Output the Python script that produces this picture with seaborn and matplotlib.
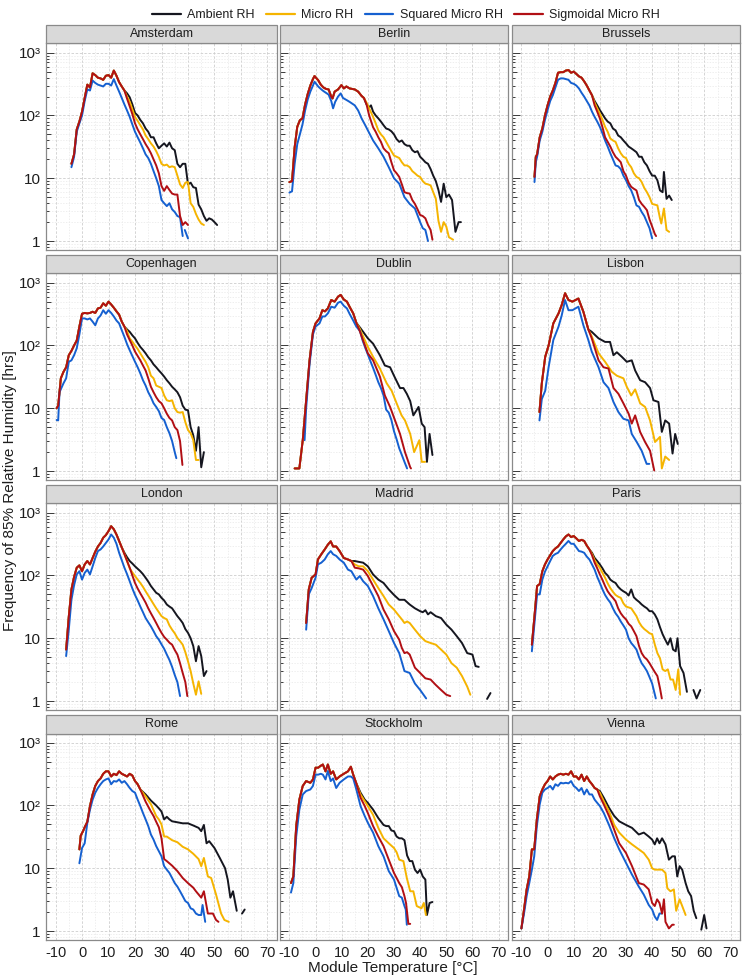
import matplotlib
matplotlib.use("Agg")
import matplotlib.pyplot as plt
import matplotlib.transforms as mtransforms
from matplotlib.lines import Line2D
from matplotlib.patches import Rectangle
from matplotlib.ticker import FixedLocator, FixedFormatter, LogLocator, NullFormatter
import pandas as pd
import seaborn as sns

# cities in facet order, series in drawing order
CITIES = ["Amsterdam", "Berlin", "Brussels", "Copenhagen", "Dublin", "Lisbon",
          "London", "Madrid", "Paris", "Rome", "Stockholm", "Vienna"]
SERIES = ["Ambient RH", "Micro RH", "Squared Micro RH", "Sigmoidal Micro RH"]
PALETTE = {"Ambient RH": "#15161f", "Micro RH": "#f5b400",
           "Squared Micro RH": "#1560d0", "Sigmoidal Micro RH": "#b10f14"}

# (temperature degC, hours); None = break in the line
# *_TOP is the part where ambient / micro / sigmoidal lie on top of each other

AMS_TOP = [(-4, 17), (-3, 24), (-2, 60), (-1, 80), (0, 115), (1, 190), (2, 310), (3, 280), (4, 470),
           (5, 440), (6, 400), (7, 390), (8, 370), (9, 430), (10, 440), (11, 400), (12, 520),
           (13, 430), (14, 340), (15, 290), (16, 250)]
AMS_SQ = [(-4, 15), (-3, 22), (-2, 55), (-1, 75), (0, 100), (1, 170), (2, 260), (3, 250), (4, 360),
          (5, 330), (6, 310), (7, 300), (8, 290), (9, 320), (10, 320), (11, 300), (12, 380), (13, 300),
          (14, 240), (15, 190), (16, 150), (17, 120), (18, 95), (19, 72), (20, 55), (21, 45), (22, 37),
          (23, 30), (24, 24), (25, 21), (26, 17), (27, 13), (28, 10), (29, 7.5), (30, 4.5), (31, 4.0),
          (32, 3.6), (33, 4.0), (34, 3.2), (35, 2.9), (36, 2.5), (37, 2.4), (38, 1.2), None,
          (38.8, 1.5), (40, 1.1)]
AMS_AMB = [(17, 225), (18, 195), (19, 150), (20, 110), (21, 100), (22, 85), (23, 75), (24, 62), (25, 55),
           (26, 45), (27, 45), (28, 36), (29, 30), (30, 33), (31, 36), (32, 32), (33, 37), (34, 30),
           (35, 28), (36, 17), (37, 15), (38, 17), (39, 17), (40, 8), (41, 8.5), (42, 7.2), (43, 7.0),
           (44, 3.8), (45, 3.2), (46, 2.5), (47, 2.1), (48, 2.3), (49, 2.2), (50, 2.0), (51, 1.8)]
AMS_MIC = [(17, 200), (18, 165), (19, 125), (20, 95), (21, 82), (22, 70), (23, 60), (24, 48), (25, 42),
           (26, 36), (27, 32), (28, 27), (29, 22), (30, 17), (31, 16), (32, 16.5), (33, 15), (34, 15.5),
           (35, 15), (36, 11), (37, 8), (38, 7), (39, 8.5), (40, 8.7), (41, 4), (42, 3.5), (43, 2.7),
           (44, 2.2), (45, 1.9), (46, 1.8)]
AMS_SIG = [(17, 185), (18, 140), (19, 105), (20, 75), (21, 60), (22, 50), (23, 42), (24, 35), (25, 30),
           (26, 25), (27, 20), (28, 16), (29, 12), (30, 7.5), (31, 6.3), (32, 7.5), (33, 6.5), (34, 5.7),
           (35, 5.5), (36, 5.5), (37, 2.5), (38, 1.8), (39, 2.0), (40, 1.8)]

BER_TOP = [(-10, 8.7), (-9, 9), (-8, 31), (-7, 66), (-6, 84), (-5, 90), (-4, 150), (-3, 220), (-2, 300),
           (-1, 380), (-0.4, 425), (1, 365), (2, 310), (3, 280), (4, 265), (5, 260), (6, 200), (6.5, 187),
           (7.3, 240), (8.6, 260), (9.9, 305), (10.8, 270), (11.8, 290), (13, 270), (15, 260),
           (16.3, 240), (17.6, 205), (18.5, 190)]
BER_SQ = [(-10, 5.9), (-9, 6.2), (-8, 17), (-7, 35), (-6, 50), (-5, 72), (-4, 120), (-3, 180), (-2, 240),
          (-1, 300), (-0.4, 345), (1, 290), (2, 265), (3, 245), (5, 215), (6, 170), (6.7, 130),
          (7.5, 165), (8.6, 200), (9.6, 225), (10.5, 190), (12, 175), (13, 165), (15, 145), (16.3, 120),
          (17.6, 90), (19, 70), (20, 58), (22, 40), (24, 30), (26, 22), (28, 15), (30, 10), (32, 8.2),
          (34, 5), (36, 3.9), (38, 3.3), (40, 2), (41, 1.6), (42, 1.5), (43, 1.0)]
BER_AMB = [(19.5, 150), (20.5, 135), (21.2, 145), (22, 115), (23, 100), (24, 90), (25, 80), (26, 70),
           (27, 62), (28, 60), (29, 56), (30, 50), (31, 42), (32, 38), (33, 40), (34, 35), (35, 33),
           (36, 33), (37, 28), (38, 26), (39, 27), (40, 22), (41, 20), (42, 18), (43, 17), (44, 14),
           (45, 11), (46, 9), (47, 6.5), (48, 4.2), (49, 8.2), (50, 5.0), (51, 5.5), (52.2, 4.5),
           (53.5, 1.4), (54.7, 2.0), (55.6, 2.0)]
BER_MIC = [(19.5, 160), (20.5, 130), (22, 95), (23, 75), (24, 58), (25, 50), (26, 45), (27, 38), (28, 32),
           (29, 27), (30, 23), (31, 22), (32, 21), (33, 18), (34, 16), (35, 16), (36, 15), (37, 13),
           (38, 12), (39, 11), (40, 10.5), (41, 9), (42, 8.2), (43, 8), (44, 7.7), (45, 6), (46, 4.7),
           (47, 2.1), (48, 1.4), (49, 2.0), (50, 1.7), (51, 1.15), (52.6, 1.05)]
BER_SIG = [(19.5, 150), (20.5, 100), (22, 65), (23, 55), (24, 45), (25, 38), (26, 30), (27, 27), (28, 25),
           (29, 18), (30, 13.4), (31, 12), (32, 10.5), (33, 8), (34, 6), (35, 5.8), (36, 5.7), (37, 4.5),
           (38, 3.9), (39, 3.2), (40, 2.6), (41, 2.5), (42, 2.3), (43, 1.8), (44, 1.5), (44.7, 1.05)]

BRU_TOP = [(-5, 10.5), (-4.5, 22), (-4, 24), (-3, 45), (-2, 62), (-1, 100), (0, 145), (1, 200), (2, 250),
           (3, 330), (4, 480), (5, 490), (6, 490), (7, 520), (8, 530), (9, 480), (10, 500), (11, 460),
           (12, 420), (13, 400), (14, 350), (15, 300), (16, 250), (17, 210)]
BRU_SQ = [(-5, 8.7), (-4.5, 18), (-4, 22), (-3, 40), (-2, 55), (-1, 85), (0, 122), (1, 170), (2, 210),
          (3, 280), (4, 370), (5, 390), (6, 390), (7, 380), (8, 370), (9, 330), (10, 320), (11, 300),
          (12, 270), (13, 230), (14, 200), (15, 170), (16, 145), (17, 115), (18, 95), (19, 80), (20, 66),
          (21, 52), (22, 40), (23, 32), (24, 25), (25, 20), (26, 16), (27, 15.5), (28, 14), (29, 11),
          (30, 9.3), (31, 7.5), (32, 6.4), (33, 5), (34, 3.7), (35, 3.5), (36, 2.9), (37, 2.5), (38, 2.0),
          (39, 1.6), (40, 1.1)]
BRU_AMB = [(18, 170), (19, 145), (20, 122), (21, 105), (22, 90), (23, 80), (24, 75), (25, 62), (26, 58),
           (27, 48), (28, 45), (29, 40), (30, 36), (31, 32), (32, 30), (33, 28), (34, 26), (35, 22),
           (36, 22), (37, 18), (38, 16), (39, 13), (40, 11), (41, 11), (42, 9.3), (43, 6.4), (44, 6),
           (44.5, 12.6), (45.5, 4.7), (46.5, 5.3), (47.5, 4.5)]
BRU_MIC = [(18, 160), (19, 130), (20, 107), (21, 85), (22, 66), (23, 55), (24, 43), (25, 40), (26, 38),
           (27, 30), (28, 25), (29, 22), (30, 21), (31, 17), (32, 15), (33, 12), (34, 10.5), (35, 10),
           (36, 8.7), (37, 7), (38, 6), (39, 5), (40, 3.9), (41, 3.8), (42, 3.7), (43, 2.3), (43.5, 1.9),
           (44.5, 3.3), (45.5, 1.5), (46.5, 1.4)]
BRU_SIG = [(18, 145), (19, 115), (20, 90), (21, 65), (22, 45), (23, 38), (24, 32), (25, 26), (26, 22),
           (27, 20), (28, 18), (29, 13), (30, 11), (31, 8.5), (32, 7.3), (33, 6.8), (34, 6.4), (35, 4.5),
           (36, 3.9), (37, 3.5), (38, 3.1), (39, 2.2), (40, 1.7), (41, 1.3), (41.5, 1.2)]

COP_TOP = [(-9.6, 10), (-9, 11), (-8, 30), (-7, 38), (-6, 45), (-5, 70), (-4, 82), (-3, 100), (-2, 120),
           (-1, 200), (0, 320), (1, 330), (2, 325), (3, 330), (4, 345), (5, 330), (6, 390), (7, 400),
           (8, 470), (9, 430), (10, 500), (11, 450), (12, 400), (13, 350), (14, 310), (15, 240), (16, 200)]
COP_SQ = [(-9.6, 6.5), (-9, 6.4), (-8.5, 18), (-7, 25), (-6, 30), (-5, 55), (-4, 58), (-3, 70), (-2, 90),
          (-1, 150), (0, 270), (1, 270), (2, 260), (3, 270), (4, 240), (5, 210), (6, 270), (7, 300),
          (8, 365), (9, 320), (10, 365), (11, 330), (12, 290), (13, 250), (14, 225), (15, 175), (16, 137),
          (17, 105), (18, 84), (19, 68), (20, 55), (21, 45), (22, 36), (23, 28), (24, 23), (25, 18),
          (26, 15), (27, 12), (28, 10.5), (29, 9), (30, 7), (31, 6.5), (32, 5), (33, 4), (34, 3), (35, 2),
          (35.6, 1.6)]
COP_AMB = [(17, 180), (18, 165), (19, 145), (20, 130), (21, 110), (22, 95), (23, 85), (24, 75), (25, 65),
           (26, 58), (27, 50), (28, 45), (29, 40), (30, 36), (31, 32), (32, 28), (33, 25), (34, 22),
           (35, 20), (36, 18), (37, 15), (38, 11), (39, 9.5), (40, 9.3), (41, 5), (42, 3.7), (43, 2.1),
           (44, 5), (45, 1.15), (46, 2.0)]
COP_MIC = [(17, 170), (18, 130), (19, 115), (20, 100), (21, 88), (22, 75), (23, 64), (24, 55), (25, 45),
           (26, 33), (27, 30), (28, 23), (29, 22), (30, 21), (31, 16), (32, 13.4), (33, 13), (34, 13.4),
           (35, 10), (36, 8.7), (37, 8.5), (38, 8.7), (39, 6), (40, 4.5), (41, 4), (42, 3.1), (43, 1.5),
           (44, 1.5)]
COP_SIG = [(17, 150), (18, 122), (19, 100), (20, 80), (21, 68), (22, 58), (23, 48), (24, 40), (25, 30),
           (26, 22), (27, 18), (28, 15), (29, 13), (30, 12), (31, 10), (32, 8.2), (33, 7), (34, 6.4),
           (35, 5), (36, 4.5), (37, 3), (37.9, 1.25)]

DUB_TOP = [(-8, 1.1), (-6.2, 1.1), (-4.9, 3.1), (-3.6, 13.4), (-2.3, 58), (-1, 165), (0, 225), (1.5, 270),
           (2.6, 365), (3.6, 350), (4.7, 390), (6, 530), (7.3, 500), (8.6, 600), (9.6, 640), (10.8, 540),
           (12, 500), (13, 415), (14.4, 325), (15.6, 230)]
DUB_SQ = [(-4.2, 3.1), (-3.6, 10), (-2.3, 50), (-1, 150), (0, 200), (1.5, 225), (2.6, 290), (3.6, 290),
          (4.7, 325), (6, 415), (7.3, 400), (8.6, 480), (9.6, 500), (10.8, 430), (12, 390), (13, 320),
          (14.4, 250), (15.6, 200), (17, 170), (18, 120), (19, 92), (20, 72), (21, 56), (22, 44), (23, 34),
          (24, 26), (25, 21), (26, 16), (27, 9.5), (28, 8.5), (29, 6.5), (30, 4.3), (31, 3.2), (32, 2.3),
          (33, 1.8), (34, 1.4), (35, 1.1)]
DUB_AMB = [(16.9, 195), (18.2, 165), (20, 130), (22, 107), (24.6, 70), (26.5, 48), (28.5, 45), (30, 33),
           (32.3, 21), (33.6, 21), (34.9, 17), (36.2, 13), (37.4, 7.7), (39.4, 10.5), (40.6, 5.7),
           (41.7, 5), (42.6, 1.4), (43.6, 3.9), (44.7, 1.8)]
DUB_MIC = [(16.9, 185), (18.2, 140), (20, 95), (22, 66), (24.6, 43), (27.2, 25), (29.1, 19), (31, 12),
           (32.9, 7.7), (34.2, 6.4), (36.2, 3.9), (37.7, 2.0), (39.7, 3.1), (40.6, 1.4), (41.9, 1.4)]
DUB_SIG = [(16.9, 170), (18.2, 120), (20, 75), (22, 58), (24.6, 32), (26.5, 16), (28.5, 10.5), (30.4, 6.4),
           (32.3, 3.9), (34.2, 2.0), (36.2, 1.15), (36.5, 1.1)]

LIS_TOP = [(-3.1, 8.7), (-2.2, 25), (-0.9, 66), (0.4, 100), (2.2, 225), (4.2, 325), (5.4, 440), (6.7, 680),
           (8, 530), (9.5, 500), (11.8, 560), (13.7, 345), (15.6, 180)]
LIS_SQ = [(-3.1, 6.4), (-2.2, 14), (-0.9, 19), (0.4, 45), (2.2, 122), (4.2, 200), (5.4, 300), (6.7, 530),
          (8, 365), (9.5, 365), (11.8, 415), (13.7, 210), (15.6, 122), (16.9, 80), (19.5, 45), (21.4, 26),
          (23.3, 21), (25.2, 12.6), (27.1, 8.7), (29, 6.8), (31, 6.4), (32.2, 3.9), (34.1, 2.9), (36, 2.1),
          (37.9, 1.3), (38.9, 1.3)]
LIS_AMB = [(16.9, 165), (19.5, 130), (22, 114), (23.9, 114), (25.2, 70), (26.5, 78), (28.4, 66), (30.3, 55),
           (32.2, 58), (33.5, 40), (35.4, 28), (37.3, 26), (39.2, 21), (40.5, 13.4), (42.4, 12.6),
           (43.7, 4.2), (45, 6.4), (46.5, 5.7), (47.8, 1.9), (48.8, 3.9), (49.8, 2.7)]
LIS_MIC = [(16.9, 140), (19.5, 75), (22, 55), (24.6, 38), (26.5, 33), (29, 30), (30.3, 22), (32, 16),
           (33.5, 20), (35.4, 12), (37.3, 10.5), (39.2, 6.4), (41.1, 2.9), (43, 3.5), (43.7, 1.1), (45, 1.7),
           (46.5, 1.5)]
LIS_SIG = [(16.9, 130), (19.5, 58), (21.4, 45), (23.3, 43), (25.2, 21), (27.1, 17), (29, 12), (31, 8.2),
           (32.2, 5.7), (33.5, 7.7), (35.4, 4.2), (37.3, 2.9), (39.2, 2.1), (40.8, 1.02)]

LON_TOP = [(-6, 6.6), (-5, 22), (-4, 60), (-3, 95), (-2, 133), (-1, 145), (0, 117), (1, 150), (2, 170),
           (3, 150), (4, 190), (5, 240), (6, 290), (7, 330), (8, 400), (9, 440), (10, 510), (11, 610),
           (12, 545), (13, 450), (14, 355), (15, 280)]
LON_SQ = [(-6, 5.2), (-5, 13.7), (-4, 41), (-3, 70), (-2, 104), (-1, 117), (0, 86), (1, 110), (2, 124),
          (3, 104), (4, 140), (5, 190), (6, 245), (7, 260), (8, 290), (9, 330), (10, 375), (11, 450),
          (12, 400), (13, 320), (14, 230), (15, 175), (16, 133), (17, 105), (18, 81), (19, 62), (20, 49),
          (21, 40), (22, 32), (23, 26), (24, 21), (25, 18), (26, 15.5), (27, 13), (28, 10.8), (29, 9.5),
          (30, 8), (31, 6.8), (32, 5.5), (33, 4.5), (34, 3.5), (35, 2.6), (36, 2.0), (37, 1.2)]
LON_AMB = [(16, 230), (17, 195), (18, 170), (19, 155), (20, 140), (21, 128), (22, 117), (23, 105), (24, 92),
           (25, 80), (26, 68), (27, 60), (28, 53), (29, 50), (30, 44), (31, 40), (32, 34.5), (33, 32),
           (34, 30), (35, 26), (36, 22.5), (37, 20), (38, 17.5), (39, 14), (40, 12.2), (41, 10), (42, 7.5),
           (43, 4.3), (44, 7.5), (45, 5.2), (46, 2.5), (47, 3.0)]
LON_MIC = [(16, 220), (17, 170), (18, 130), (19, 112), (20, 98), (21, 86), (22, 76), (23, 66), (24, 56),
           (25, 48), (26, 41), (27, 35), (28, 30), (29, 26), (30, 22.5), (31, 21), (32, 20), (33, 16),
           (34, 13.7), (35, 12), (36, 10.1), (37, 9), (38, 7.9), (39, 6), (40, 4.3), (41, 3.0), (42, 1.9),
           (43, 1.26), (44, 2.06), (45, 1.3)]
LON_SIG = [(16, 218), (17, 170), (18, 133), (19, 100), (20, 76), (21, 62), (22, 52), (23, 44), (24, 37),
           (25, 30), (26, 25), (27, 21), (28, 17.5), (29, 14.5), (30, 12.2), (31, 10.5), (32, 9.5),
           (33, 8.5), (34, 7.9), (35, 6.5), (36, 5.5), (37, 4), (38, 2.8), (39, 2.0), (39.75, 1.2)]

MAD_TOP = [(-3.6, 17.5), (-2.6, 60), (-1.5, 92), (0, 104), (0.9, 180), (2.2, 218), (3.5, 260), (4.7, 310),
           (5.8, 350), (6.7, 290), (7.9, 290), (9.2, 245), (10.8, 190), (12.4, 180), (13.7, 170)]
MAD_SQ = [(-3.6, 13.7), (-2.6, 50), (-1.5, 63), (0, 92), (0.9, 150), (2.2, 160), (3.5, 180), (4.7, 218),
          (5.8, 245), (6.7, 218), (7.9, 205), (9.2, 180), (10.8, 160), (12.4, 124), (13.7, 117),
          (15.6, 86), (16.9, 98), (18.2, 81), (20, 68), (22, 47), (24, 30), (26, 20), (28, 13), (30, 8.4),
          (32, 5.8), (34, 3.0), (36, 2.8), (38, 1.9), (40, 1.5), (42.3, 1.1)]
MAD_AMB = [(15, 170), (16.5, 165), (18.2, 160), (20, 140), (22, 104), (24, 86), (26, 76), (28, 60),
           (30, 49), (32, 41), (34, 41), (36, 34.5), (38, 30), (40, 27), (41, 26), (42, 28), (43, 24),
           (44, 26), (46, 22.5), (48, 21), (50, 16.5), (52, 13.7), (54, 10.8), (56, 8.4), (58, 5.8),
           (60, 5.5), (61.2, 3.6), (62.4, 3.5), None, (65.6, 1.08), (66.9, 1.34)]
MAD_MIC = [(15, 150), (16.5, 140), (18.2, 140), (20, 117), (22, 86), (24, 63), (26, 47), (28, 34.5),
           (30, 28.6), (32, 22.5), (33, 20), (34, 17.5), (35, 18.5), (36, 17.5), (38, 13.7), (40, 10.8),
           (42, 9), (44, 8.4), (46, 7.9), (48, 6.6), (50, 5.5), (52, 4.0), (54, 3.4), (56, 2.5), (58, 1.7),
           (59.2, 1.26)]
MAD_SIG = [(15, 133), (16.5, 130), (18.2, 124), (20, 98), (22, 68), (24, 47), (26, 28.6), (28, 20), (30, 13),
           (32, 9.5), (33, 7), (34, 5.8), (35, 6), (36, 5.5), (38, 3.4), (40, 2.8), (42, 2.3), (44, 2.2),
           (46, 1.8), (48, 1.5), (50, 1.26), (51.5, 1.2)]

PAR_TOP = [(-6, 7.9), (-5, 22.5), (-4, 68), (-3, 73), (-2, 117), (-1, 150), (0, 180), (1, 210), (2, 245),
           (3, 270), (4, 290), (5, 330), (6, 375), (7, 420), (8, 450), (9, 410), (10, 425), (11, 390),
           (12, 355), (13, 370), (14, 355), (15, 300), (16, 260)]
PAR_SQ = [(-6, 6.2), (-5, 17.5), (-4, 50), (-3, 50), (-2, 86), (-1, 115), (0, 140), (1, 170), (2, 205),
          (3, 220), (4, 230), (5, 260), (6, 290), (7, 320), (8, 355), (9, 320), (10, 320), (11, 280),
          (12, 245), (13, 240), (14, 230), (15, 200), (16, 180), (17, 150), (18, 124), (19, 95), (20, 76),
          (21, 60), (22, 49), (23, 42), (24, 37), (25, 30), (26, 25), (27, 22), (28, 18.5), (29, 16),
          (30, 13.7), (31, 10), (32, 8.4), (33, 7.5), (34, 6.6), (35, 5), (36, 4.0), (37, 3.5), (38, 3.0),
          (39, 2.4), (40, 1.9), (41.4, 1.1)]
PAR_AMB = [(17, 230), (18, 190), (19, 170), (20, 150), (21, 130), (22, 110), (23, 100), (24, 86), (25, 80),
           (26, 76), (27, 66), (28, 60), (29, 56), (30, 53), (31, 48), (32, 60), (33, 45), (34, 41),
           (35, 38), (36, 34.5), (37, 32), (38, 30), (39, 27), (40, 27), (41, 24), (42, 20), (43, 15),
           (44, 11.6), (45, 9.5), (46, 7.9), (47, 10), (48, 6.6), (49, 6.2), (49.7, 10), (50.7, 3.6),
           (52, 2.8), (53.3, 1.4), None, (55.8, 1.5), (57, 1.1), (58.4, 1.5)]
PAR_MIC = [(17, 220), (18, 175), (19, 150), (20, 133), (21, 110), (22, 92), (23, 75), (24, 63), (25, 55),
           (26, 49), (27, 46), (28, 44), (29, 36), (30, 32), (31, 31), (32, 30), (33, 26), (34, 22.5),
           (35, 18), (36, 15.5), (37, 14), (38, 13), (39, 12), (40, 11.6), (41, 8), (42, 5.8), (43, 4.8),
           (44, 3.2), (45, 3.0), (46, 3.2), (47, 2.2), (48, 2.2), (49, 1.5), (50, 3.2), (50.7, 1.26)]
PAR_SIG = [(17, 210), (18, 160), (19, 130), (20, 104), (21, 85), (22, 68), (23, 56), (24, 49), (25, 44),
           (26, 39), (27, 30), (28, 25), (29, 22), (30, 20), (31, 17), (32, 15.5), (33, 13), (34, 10.8),
           (35, 7.5), (36, 5.8), (37, 5), (38, 4.6), (39, 4), (40, 3.4), (41, 2.9), (42, 2.5), (43, 1.6),
           (43.7, 1.1)]

ROM_TOP = [(-1, 20), (-0.5, 33), (0.5, 40), (1, 45), (2, 55), (3, 98), (4, 150), (5, 205), (6, 245),
           (7, 270), (8, 320), (9, 350), (10, 350), (11, 290), (12, 320), (13, 305), (14, 350), (15, 320),
           (16, 305), (17, 290), (18, 320), (19, 300), (20, 245), (21, 218), (22, 180)]
ROM_SQ = [(-1, 12), (0, 21), (1, 25), (2, 53), (3, 86), (4, 124), (5, 160), (6, 190), (7, 218), (8, 245),
          (9, 260), (10, 270), (11, 218), (12, 245), (13, 240), (14, 260), (15, 230), (16, 245), (17, 218),
          (18, 190), (19, 170), (20, 160), (21, 124), (22, 98), (23, 76), (24, 60), (25, 47), (26, 34.5),
          (27, 28.6), (28, 22.5), (29, 18.7), (30, 15.5), (31, 10.8), (32, 9.5), (33, 8.4), (34, 7),
          (35, 5.8), (36, 5.1), (37, 4.3), (38, 3.6), (39, 3.0), (40, 2.8), (41, 2.3), (42, 2.2), (43, 1.9),
          (44, 1.8), (45, 1.8), (45.5, 2.6), (46.5, 1.4)]
ROM_AMB = [(24, 150), (26, 120), (28, 100), (29, 90), (30, 80), (31, 60), (32, 66), (33, 60), (34, 56),
           (36, 54), (38, 52), (40, 52), (42, 48), (44, 44), (45, 39), (46, 49), (47, 25), (48, 27),
           (50, 21), (52, 14.6), (54, 10), (55, 6.6), (56, 3.4), (57, 4.3), (58.4, 2.1), None,
           (60.4, 1.9), (61.4, 2.2)]
ROM_MIC = [(24, 140), (26, 105), (28, 68), (29, 60), (30, 50), (31, 32), (32, 32), (34, 28), (36, 26),
           (38, 22), (40, 20), (42, 17), (44, 14), (45, 10.8), (46, 14.6), (47.5, 7.4), (48.75, 7),
           (50.6, 3.8), (52.5, 1.9), (53.75, 1.5), (55.4, 1.4)]
ROM_SIG = [(24, 115), (26, 80), (27, 68), (28, 55), (29, 45), (30, 30), (31, 14), (32, 13), (34, 11),
           (36, 9), (38, 7), (40, 5.8), (42, 4.9), (43, 4.3), (45, 3.4), (46, 4.3), (47, 2.5), (47.5, 1.9),
           (49.4, 1.9), (50.6, 1.5), (51.5, 1.4)]

STO_TOP = [(-9.4, 5.8), (-8.5, 7.4), (-7.4, 47), (-6.2, 124), (-4.9, 205), (-3.6, 245), (-2, 230),
           (-1, 260), (0, 400), (1, 400), (2, 430), (2.8, 450), (3.8, 350), (4.7, 450), (5.8, 320),
           (6.7, 350), (7.9, 260), (9.2, 290), (10.8, 320), (12.4, 350), (13.5, 415), (14.4, 310),
           (15.6, 225)]
STO_SQ = [(-9.4, 4.1), (-8.5, 5.8), (-7.4, 32), (-6.2, 86), (-4.9, 150), (-3.6, 170), (-2, 180), (-1, 205),
          (0, 310), (1, 310), (2, 320), (2.8, 310), (3.8, 260), (4.7, 355), (5.8, 245), (6.7, 270),
          (7.9, 190), (9.2, 230), (10.8, 260), (12.4, 290), (13.5, 290), (14.4, 270), (15.6, 180),
          (17.2, 98), (18.8, 68), (20, 53), (22, 37), (24, 22.5), (26, 15.5), (28, 9), (30, 6.6), (32, 3.6),
          (33, 3.4), (34, 2.5), (34.5, 2.2), (34.9, 1.26)]
STO_AMB = [(17.2, 160), (18.8, 124), (20, 110), (22, 86), (24, 63), (26, 49), (27, 47), (28, 47), (29, 40),
           (30, 39), (31, 32), (32, 30), (33, 30), (34, 28), (35, 16), (36, 13), (37, 13), (38, 9.5),
           (39, 8.4), (40, 9.5), (41, 7.4), (42, 6.6), (42.6, 1.8), (43.6, 2.8), (44.7, 2.9)]
STO_MIC = [(17.2, 150), (18.8, 117), (20, 98), (22, 71), (24, 44), (26, 30), (28, 25), (30, 21), (31, 18),
           (32, 13.7), (33.6, 13), (34.9, 7), (36.2, 4.3), (37.4, 4.3), (38.7, 2.5), (40.5, 2.3),
           (41.4, 2.8), (42.2, 1.8)]
STO_SIG = [(17.2, 133), (18.8, 98), (20, 76), (22, 47), (24, 32), (26, 22.5), (28, 13.7), (30, 8.4),
           (31, 7), (32, 5.8), (33, 5), (34, 3.6), (34.6, 2.8), (35.5, 1.3), (36.2, 1.3)]

VIE_TOP = [(-10, 1.1), (-9, 2.2), (-8, 4.6), (-7, 7.4), (-6, 20), (-5.1, 20), (-4.1, 60), (-3, 140),
           (-2, 180), (-1, 218), (0, 245), (1, 290), (2, 260), (3, 290), (4, 310), (5, 320), (6, 310),
           (7, 320), (8, 310), (9, 350), (10, 290), (11, 290), (12, 260), (13, 310), (14, 245), (15, 290),
           (16, 245), (17, 218), (18, 190), (19, 180)]
VIE_SQ = [(-10, 1.1), (-9, 1.9), (-8, 3.6), (-7, 5.8), (-6, 9.5), (-5.1, 15.5), (-4.1, 47), (-3, 104),
          (-2, 160), (-1, 180), (0, 190), (1, 205), (2, 180), (3, 218), (4, 205), (5, 230), (6, 225),
          (7, 230), (8, 225), (9, 245), (10, 205), (11, 190), (12, 170), (13, 190), (14, 150), (15, 180),
          (16, 150), (17, 150), (18, 124), (19, 110), (20, 98), (21.5, 76), (23.5, 49), (25.5, 30),
          (27.4, 20), (30, 12.2), (32.3, 7.9), (34.9, 5.1), (36.8, 3.8), (38.7, 2.6), (40, 2.2), (41, 1.7),
          (41.9, 1.5), (42.8, 1.9), (43.8, 1.9)]
VIE_AMB = [(20, 170), (21.5, 133), (23.5, 92), (25.5, 68), (27.4, 56), (30, 49), (32.3, 44), (34.9, 34.5),
           (36.8, 37), (38.7, 32), (40, 28.6), (41, 24), (41.9, 30), (42.8, 25), (43.8, 30), (45.1, 24),
           (46.4, 13.7), (47.7, 15.5), (48.7, 15.5), (49.6, 7.4), (50.5, 10.8), (51.5, 9.5), (52.8, 5.8),
           (53.8, 4.3), (54.9, 3.6), (55.9, 2.1), (56.9, 1.6), None, (58.8, 1.05), (59.9, 1.8),
           (60.8, 1.1)]
VIE_MIC = [(20, 160), (21.5, 117), (23.5, 81), (25.5, 49), (27.4, 37), (30, 28.6), (32.3, 24), (34.9, 20),
           (36.8, 17.5), (38.7, 13.7), (40, 10), (41, 9.5), (43.8, 9.5), (45.1, 8.4), (45.8, 4.8), (47, 4.3),
           (48.3, 4.6), (49.2, 2.1), (50.5, 3.2), (51.5, 2.5), (52.8, 1.8)]
VIE_SIG = [(20, 140), (21.5, 104), (23.5, 68), (25.5, 41), (27.4, 25), (30, 17.5), (32.3, 10.8),
           (34.9, 5.8), (36.8, 5.5), (38.7, 4.6), (40, 2.8), (41, 2.5), (41.9, 3.2), (42.8, 2.8), (43.8, 1.9),
           (44.5, 3.2), (45.1, 1.4), (46.4, 1.1), (47.7, 1.26), (48.3, 1.26)]

CITY_DATA = {
    "Amsterdam": (AMS_TOP, AMS_SQ, AMS_AMB, AMS_MIC, AMS_SIG),
    "Berlin": (BER_TOP, BER_SQ, BER_AMB, BER_MIC, BER_SIG),
    "Brussels": (BRU_TOP, BRU_SQ, BRU_AMB, BRU_MIC, BRU_SIG),
    "Copenhagen": (COP_TOP, COP_SQ, COP_AMB, COP_MIC, COP_SIG),
    "Dublin": (DUB_TOP, DUB_SQ, DUB_AMB, DUB_MIC, DUB_SIG),
    "Lisbon": (LIS_TOP, LIS_SQ, LIS_AMB, LIS_MIC, LIS_SIG),
    "London": (LON_TOP, LON_SQ, LON_AMB, LON_MIC, LON_SIG),
    "Madrid": (MAD_TOP, MAD_SQ, MAD_AMB, MAD_MIC, MAD_SIG),
    "Paris": (PAR_TOP, PAR_SQ, PAR_AMB, PAR_MIC, PAR_SIG),
    "Rome": (ROM_TOP, ROM_SQ, ROM_AMB, ROM_MIC, ROM_SIG),
    "Stockholm": (STO_TOP, STO_SQ, STO_AMB, STO_MIC, STO_SIG),
    "Vienna": (VIE_TOP, VIE_SQ, VIE_AMB, VIE_MIC, VIE_SIG),
}

# long table: one row per point, seg splits a line where it has a gap
rows = []
for city, (top, sq, amb, mic, sig) in CITY_DATA.items():
    for name, pts in [("Ambient RH", top + amb), ("Micro RH", top + mic),
                      ("Squared Micro RH", sq), ("Sigmoidal Micro RH", top + sig)]:
        seg = 0
        for p in pts:
            if p is None:
                seg += 1
                continue
            rows.append({"city": city, "series": name, "temp": p[0], "hrs": p[1], "seg": seg})
df = pd.DataFrame(rows)

sns.set_theme(style="white")
plt.rcParams["font.family"] = ["Liberation Sans", "DejaVu Sans"]
plt.rcParams["axes.unicode_minus"] = False

W, H = 743, 980
fig = plt.figure(figsize=(W / 100, H / 100), dpi=100)

COL_X = [(46, 277), (280, 508), (512, 740)]
STRIP_H = 18.5
BORDER = "#8a8a8a"
TXT = "#1e1e1e"

for i, city in enumerate(CITIES):
    r, c = divmod(i, 3)
    x0, x1 = COL_X[c]
    top = 43.5 + 230 * r
    bot = 250 + 230 * r
    ax = fig.add_axes([x0 / W, 1 - bot / H, (x1 - x0) / W, (bot - top) / H])
    ax.set_yscale("log")

    sns.lineplot(data=df[df.city == city], x="temp", y="hrs", hue="series", hue_order=SERIES,
                 palette=PALETTE, units="seg", estimator=None, sort=False, linewidth=1.4,
                 legend=False, ax=ax)

    ax.set_xlim(-13.6, 73.6)
    ax.set_ylim(10 ** -0.143, 10 ** 3.147)
    ax.set_xlabel("")
    ax.set_ylabel("")

    # grid
    ax.set_xticks(range(-10, 71, 10))
    ax.set_xticks(range(-5, 71, 10), minor=True)
    ax.yaxis.set_major_locator(FixedLocator([1, 10, 100, 1000]))
    ax.yaxis.set_minor_locator(LogLocator(base=10, subs=range(2, 10)))
    ax.yaxis.set_minor_formatter(NullFormatter())
    ax.grid(which="major", color="#cdcdcd", linestyle=(0, (3, 2)), linewidth=0.6)
    ax.grid(which="minor", color="#e8e8e8", linestyle=(0, (2, 2)), linewidth=0.5)
    ax.set_axisbelow(True)

    for s in ax.spines.values():
        s.set_color(BORDER)
        s.set_linewidth(0.9)

    ax.tick_params(which="minor", length=0)
    if c == 0:
        ax.yaxis.set_major_formatter(FixedFormatter(["1", "10", "10²", "10³"]))
        ax.tick_params(axis="y", which="major", length=2, width=0.8, color="#333333",
                       labelsize=11, labelcolor=TXT, pad=2)
    else:
        ax.tick_params(axis="y", which="major", length=0, labelleft=False)
    if r == 3:
        ax.tick_params(axis="x", which="major", length=3, width=0.8, color="#333333",
                       labelsize=10.5, labelcolor=TXT, pad=1.5)
    else:
        ax.tick_params(axis="x", which="major", length=0, labelbottom=False)

    # log ticks drawn inside the left edge
    trans = mtransforms.blended_transform_factory(ax.transAxes, ax.transData)
    pw = x1 - x0
    for k in range(-1, 4):
        for m in range(1, 10):
            v = m * 10 ** k
            if v < 10 ** -0.14 or v > 10 ** 3.14:
                continue
            ln = 7.5 if m == 1 else (5 if m == 5 else 3)
            ax.plot([0, ln / pw], [v, v], transform=trans, color="#3a3a3a", lw=0.7,
                    solid_capstyle="butt", clip_on=False)

    # facet strip
    fig.add_artist(Rectangle((x0 / W, 1 - top / H), (x1 - x0) / W, STRIP_H / H,
                             transform=fig.transFigure, facecolor="#d9d9d9",
                             edgecolor=BORDER, linewidth=0.9))
    fig.text((x0 + x1) / 2 / W, 1 - (top - STRIP_H / 2) / H, city, ha="center", va="center",
             fontsize=9, color=TXT)

fig.text(10 / W, 1 - 491 / H, "Frequency of 85% Relative Humidity [hrs]", rotation=90,
         ha="center", va="center", fontsize=11, color=TXT)
fig.text(393 / W, 1 - 968 / H, "Module Temperature [°C]", ha="center", va="center",
         fontsize=11, color=TXT)

handles = [Line2D([], [], color=PALETTE[s], lw=1.6) for s in SERIES]
fig.legend(handles, SERIES, loc="center", bbox_to_anchor=(406 / W, 1 - 15 / H), ncol=4,
           frameon=False, fontsize=9, handlelength=2.3, handletextpad=0.5, columnspacing=0.9,
           borderpad=0, labelcolor=TXT)

fig.savefig("out.png", dpi=100)
